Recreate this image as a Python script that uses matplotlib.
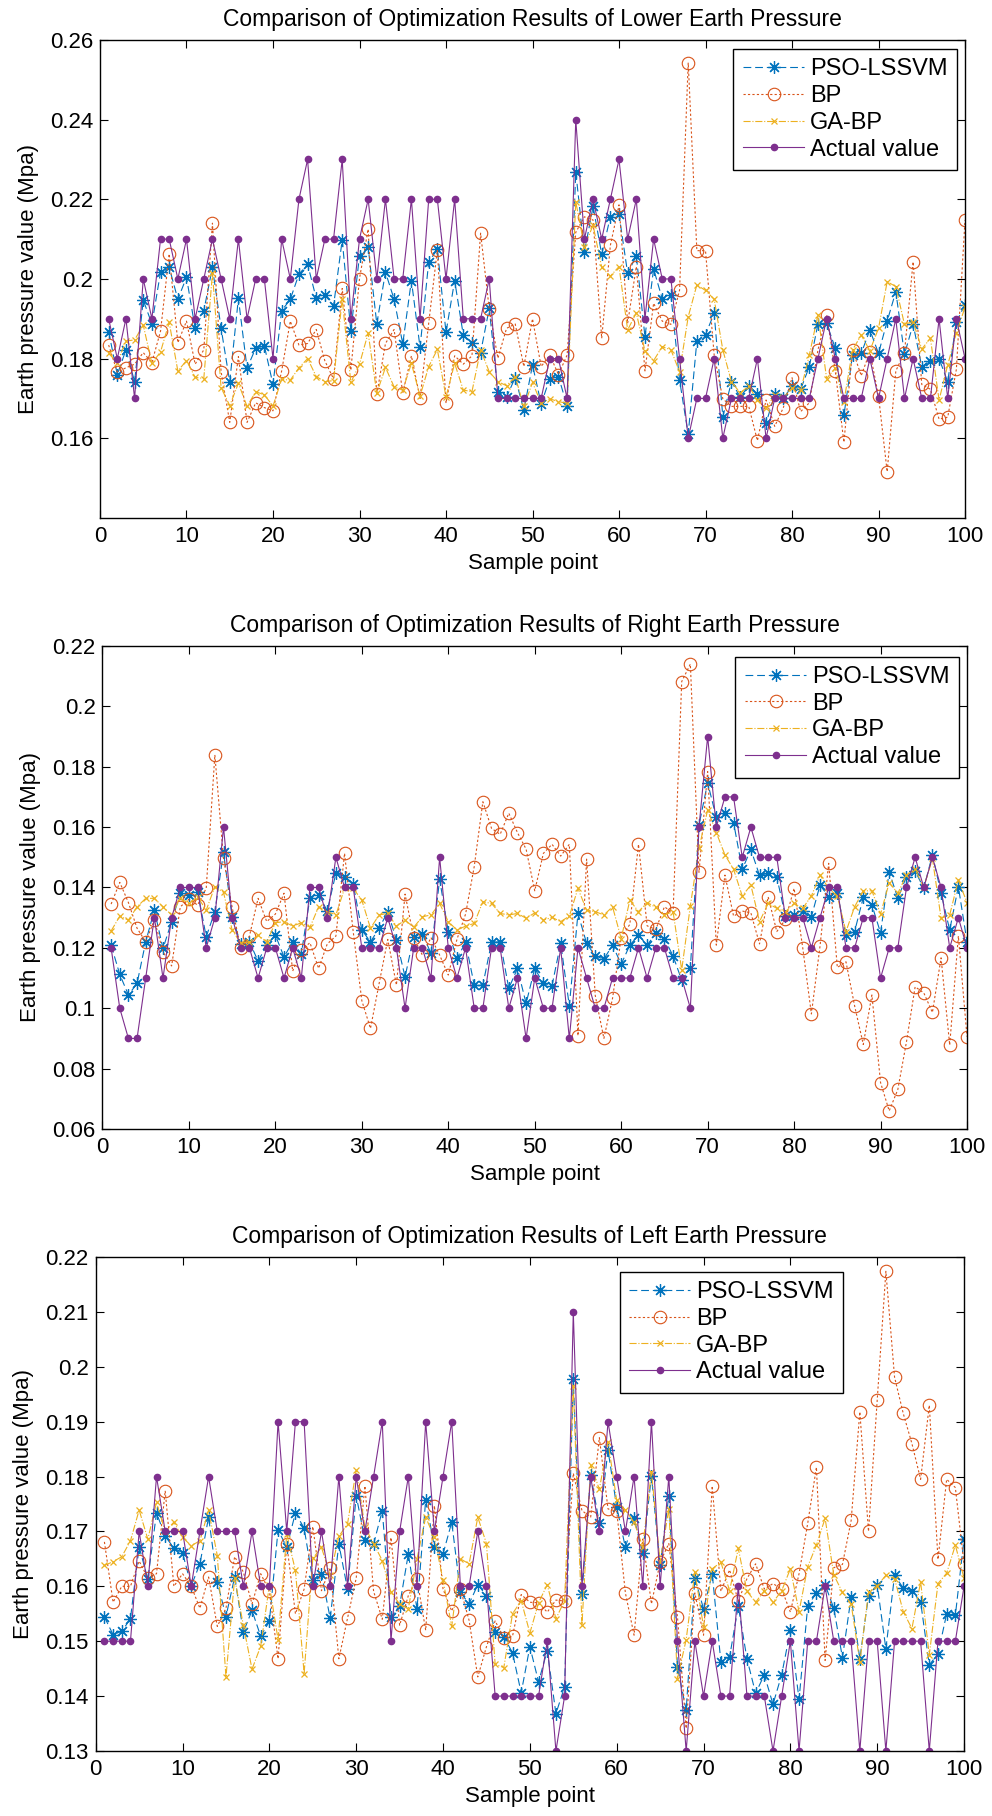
import numpy as np
import matplotlib
matplotlib.use('Agg')
import matplotlib.pyplot as plt

plt.rcParams['font.family'] = ['Liberation Sans', 'DejaVu Sans']

x = np.arange(1, 101)

# ---- Lower earth pressure
p1_pso = [.1868,.176,.1822,.1742,.1947,.1887,.2017,.2029,.1949,.2004,.1876,.1920,.2029,.1876,.1742,.1951,.1776,.1826,.1832,.1735,.1920,.1949,.2012,.2037,.1951,
          .196,.1932,.2098,.187,.2058,.208,.1887,.2017,.1949,.1837,.1996,.1828,.2043,.2074,.1866,.1996,.1859,.184,.1815,.1926,.1717,.1704,.1752,.1671,.1784,
          .1686,.175,.1755,.1681,.2269,.2067,.2182,.2062,.2156,.2162,.2014,.2058,.1855,.2025,.195,.196,.1746,.161,.1844,.186,.1914,.1654,.1742,.1704,.1731,
          .171,.1638,.171,.170,.1731,.1723,.178,.1887,.1889,.1826,.1658,.1809,.1813,.1872,.1813,.1894,.1968,.1811,.1886,.178,.1795,.180,.1742,.1893,.1935]
p1_bp = [.1834,.1766,.1777,.1786,.1815,.179,.1869,.2063,.184,.1894,.1786,.1822,.214,.1767,.164,.1805,.164,.1689,.1677,.1669,.1769,.1894,.1834,.1838,.1873,
         .1794,.1749,.1976,.1771,.2001,.2125,.171,.1838,.1873,.1713,.1807,.170,.1889,.2073,.1688,.1807,.1786,.1807,.2115,.1924,.1801,.1876,.1887,.178,.19,
         .178,.1809,.176,.1809,.2117,.2156,.2148,.1851,.2084,.2186,.1889,.2031,.1769,.1939,.1894,.1886,.1972,.2543,.2071,.2071,.1809,.1699,.168,.168,.168,
         .1594,.1696,.163,.1677,.1752,.1667,.1689,.1822,.191,.1769,.159,.1822,.1757,.1817,.1706,.1516,.1769,.1815,.2043,.1735,.1723,.1648,.1653,.1773,.2148]
p1_ga = [.1813,.179,.1844,.1847,.1884,.1788,.1817,.1891,.1769,.1795,.1753,.175,.2014,.1727,.1682,.1738,.168,.1717,.1709,.1681,.1748,.1746,.1777,.180,.1755,
         .1742,.1745,.1949,.174,.1786,.1864,.1713,.1778,.1729,.1721,.1788,.1706,.178,.1823,.1704,.1788,.1721,.1717,.1822,.1767,.1742,.1732,.1755,.168,.174,
         .1688,.1699,.1692,.1688,.2194,.2081,.2135,.2029,.2007,.2031,.1872,.1915,.1819,.1795,.183,.1822,.1767,.1905,.1985,.1971,.1949,.1822,.1742,.1714,.1731,
         .1696,.1675,.1709,.1704,.1726,.172,.1809,.191,.175,.1776,.1692,.1822,.1859,.182,.1876,.1993,.1981,.1886,.1893,.1824,.1851,.1696,.1784,.1864,.1929]
p1_act = [.19,.18,.19,.17,.20,.19,.21,.21,.20,.21,.19,.20,.21,.20,.19,.21,.19,.20,.20,.18,.21,.20,.22,.23,.20,
          .21,.21,.23,.19,.21,.22,.20,.22,.20,.20,.22,.19,.22,.22,.20,.22,.19,.19,.19,.20,.17,.17,.17,.17,.17,
          .17,.18,.18,.17,.24,.21,.22,.21,.22,.23,.21,.22,.19,.21,.20,.20,.18,.16,.17,.17,.18,.16,.17,.17,.17,
          .18,.16,.17,.17,.17,.17,.17,.18,.19,.18,.17,.17,.17,.18,.17,.18,.19,.17,.18,.17,.17,.19,.17,.19,.18]

# ---- Right earth pressure
p2_pso = [.1209,.1112,.1044,.1082,.122,.1325,.1198,.1287,.1381,.1375,.1386,.1237,.132,.1516,.1303,.1213,.122,.1156,.1209,.1242,.117,.122,.118,.1366,.1375,
          .1323,.1447,.1436,.1411,.1259,.122,.1265,.132,.1226,.1104,.1237,.1246,.1182,.1427,.1254,.1165,.1218,.1077,.1077,.1218,.122,.1066,.1132,.1016,.1132,
          .1082,.1075,.1215,.1008,.1314,.1215,.1173,.1163,.1209,.1146,.1209,.1242,.1209,.1248,.1231,.1173,.1093,.1132,.1607,.1747,.1632,.1648,.1615,.146,.1526,
          .144,.1447,.1434,.1305,.1309,.1323,.1303,.1408,.1369,.1381,.1242,.1254,.1367,.1342,.125,.1452,.1364,.1436,.1455,.1397,.1508,.1381,.1259,.1403,.122]
p2_bp = [.1345,.1417,.135,.1265,.122,.1292,.1187,.114,.1336,.1361,.1342,.1397,.1839,.1496,.1334,.1198,.1239,.1364,.1287,.1312,.1381,.1123,.1193,.1217,.1132,
         .1213,.1239,.1513,.1254,.1025,.0933,.1082,.1228,.1077,.1378,.1234,.1176,.1234,.1176,.111,.1228,.1312,.1469,.1684,.1596,.1576,.1646,.1582,.1527,.1389,
         .1513,.1543,.1504,.1543,.0909,.1494,.1042,.09,.1033,.1234,.1278,.1543,.1273,.1261,.1336,.1316,.2082,.214,.145,.1784,.1209,.1441,.1305,.1322,.1316,
         .1213,.1369,.1254,.1294,.1397,.12,.0981,.1206,.148,.1135,.1154,.1008,.088,.1044,.0754,.066,.0731,.0889,.1071,.1051,.0986,.1167,.0878,.1239,.0906]
p2_ga = [.1256,.1305,.1292,.1336,.1364,.1364,.1336,.1309,.1364,.1347,.1369,.1325,.1403,.1384,.1259,.1215,.122,.1242,.122,.1283,.1287,.1272,.1283,.1268,.1336,
         .132,.1309,.1397,.1397,.1358,.1265,.1309,.1314,.1272,.1292,.1268,.1303,.1309,.1347,.1287,.1259,.1272,.1281,.1353,.1347,.1314,.1309,.1314,.1298,.1316,
         .1292,.1301,.1287,.1305,.1397,.1325,.132,.1309,.1336,.1231,.1358,.132,.135,.1334,.1309,.132,.1127,.1339,.153,.1657,.1582,.1508,.146,.1372,.1408,
         .1287,.1347,.1331,.132,.1347,.1331,.1372,.1441,.1397,.1372,.1254,.1336,.1389,.1389,.1312,.1416,.1381,.1441,.146,.14,.1496,.1298,.1309,.1425,.135]
p2_act = [.12,.10,.09,.09,.11,.13,.11,.13,.14,.14,.14,.12,.13,.16,.13,.12,.12,.11,.12,.12,.11,.12,.11,.14,.14,
          .13,.15,.14,.14,.12,.12,.12,.13,.12,.10,.12,.12,.11,.15,.12,.11,.12,.10,.10,.12,.12,.10,.11,.09,.11,
          .10,.10,.12,.09,.12,.11,.10,.10,.11,.11,.11,.12,.11,.12,.12,.11,.11,.10,.16,.19,.16,.17,.17,.15,.16,
          .15,.15,.15,.13,.13,.13,.12,.13,.14,.14,.12,.12,.13,.13,.11,.12,.12,.14,.15,.14,.15,.14,.12,.13,.12]

# ---- Left earth pressure
p3_pso = [.1544,.1512,.1518,.1541,.1672,.1613,.1734,.1691,.167,.1661,.1601,.1641,.1726,.1608,.1545,.1617,.1517,.1556,.1509,.1536,.1703,.1671,.1734,.1706,.1611,
          .1623,.1542,.1677,.1595,.1765,.1685,.1677,.1738,.1544,.1565,.1659,.1559,.1757,.1672,.1659,.1717,.1589,.1568,.1603,.1583,.1517,.1508,.1479,.1406,.149,
          .1426,.1483,.1368,.1417,.1977,.1586,.1803,.1715,.1848,.1745,.1671,.1724,.166,.1801,.1638,.1765,.1453,.1374,.1615,.1559,.1623,.1462,.1471,.1564,.1468,
          .1405,.1439,.1385,.1439,.152,.1394,.1564,.1588,.1603,.156,.147,.1581,.1468,.1583,.1603,.1486,.162,.1597,.1591,.1572,.1457,.1477,.155,.1547,.1686]
p3_bp = [.1681,.1571,.16,.16,.1646,.1615,.1623,.1774,.16,.1623,.16,.156,.1617,.1527,.156,.1654,.1626,.1568,.1623,.1591,.1468,.1677,.155,.1595,.1709,
         .1592,.1634,.1468,.1542,.1615,.1783,.1591,.154,.1689,.1529,.1583,.1614,.152,.1747,.1595,.1555,.1595,.1538,.1435,.149,.1537,.1506,.1509,.1585,.1571,
         .157,.1553,.1575,.1573,.1806,.1738,.1726,.1871,.1741,.1737,.1588,.1511,.1686,.1568,.1644,.1678,.1544,.1341,.1588,.1511,.1783,.1591,.163,.1573,.1614,
         .1641,.1595,.1605,.1595,.1553,.1623,.1715,.1817,.1465,.1634,.164,.172,.1918,.17,.1939,.2174,.1981,.1915,.186,.1795,.193,.1649,.1795,.178,.1641]
p3_ga = [.1638,.1645,.1654,.1683,.1739,.1686,.1753,.17,.1717,.1689,.1674,.1683,.1739,.1656,.1435,.1615,.1529,.1449,.1491,.1602,.1503,.1695,.1629,.1441,.1651,
         .1671,.162,.1691,.1714,.1812,.1708,.1678,.1647,.1589,.1568,.1559,.165,.1726,.1689,.1611,.1527,.165,.1641,.1726,.1678,.1458,.1452,.155,.1574,.1515,
         .157,.1603,.1541,.1574,.1965,.153,.1821,.1777,.1863,.1757,.1739,.1717,.1672,.1809,.1644,.1741,.1432,.1503,.1626,.1526,.1632,.1644,.1592,.1669,.1591,
         .1571,.1592,.1571,.1592,.1632,.1554,.1636,.1675,.1724,.1621,.1589,.1568,.1462,.1589,.1601,.162,.1614,.1554,.1523,.1608,.1475,.1605,.1624,.1675,.1615]
p3_act = [.15,.15,.15,.15,.17,.16,.18,.17,.17,.17,.16,.17,.18,.17,.17,.17,.16,.17,.16,.16,.19,.17,.19,.19,.16,
          .17,.16,.18,.16,.18,.17,.18,.19,.15,.17,.18,.16,.19,.17,.18,.19,.16,.16,.17,.16,.14,.14,.14,.14,.14,
          .14,.15,.13,.14,.21,.16,.18,.17,.19,.18,.17,.18,.16,.19,.16,.18,.15,.13,.15,.14,.15,.14,.14,.16,.14,
          .14,.14,.13,.14,.15,.13,.15,.15,.16,.15,.15,.15,.13,.15,.15,.13,.15,.15,.15,.15,.13,.15,.15,.15,.16]

titles = ['Comparison of Optimization Results of Lower Earth Pressure',
          'Comparison of Optimization Results of Right Earth Pressure',
          'Comparison of Optimization Results of Left Earth Pressure']
yticks = [[0.16, 0.18, 0.2, 0.22, 0.24, 0.26],
          [0.06, 0.08, 0.1, 0.12, 0.14, 0.16, 0.18, 0.2, 0.22],
          [0.13, 0.14, 0.15, 0.16, 0.17, 0.18, 0.19, 0.2, 0.21, 0.22]]
ylims = [(0.14, 0.26), (0.06, 0.22), (0.13, 0.22)]
xticks = list(range(0, 101, 10))
names = ['PSO-LSSVM', 'BP', 'GA-BP', 'Actual value']

c_blue = '#0072BD'
c_orange = '#D95319'
c_yellow = '#EDB120'
c_purple = '#7E2F8E'

positions = [[0.1008, 0.7148, 0.872, 0.2632],
             [0.1033, 0.3783, 0.8715, 0.2660],
             [0.0965, 0.0358, 0.8753, 0.2720]]
leg_anchor = [(0.991, 0.981), (0.991, 0.978), (0.861, 0.970)]

fig = plt.figure(figsize=(9.92, 18.16), dpi=100)

data = [(p1_pso, p1_bp, p1_ga, p1_act),
        (p2_pso, p2_bp, p2_ga, p2_act),
        (p3_pso, p3_bp, p3_ga, p3_act)]

for i in range(3):
    pso, bp, ga, act = data[i]
    ax = fig.add_axes(positions[i])
    ax.plot(x, pso, color=c_blue, ls=(0, (7, 3.5)), lw=0.8, marker=(8, 2, 0),
            ms=9, mew=0.9, label=names[0])
    ax.plot(x, bp, color=c_orange, ls=(0, (2, 2)), lw=0.8, marker='o', ms=9,
            mfc='none', mew=0.8, label=names[1])
    ax.plot(x, ga, color=c_yellow, ls='-.', lw=0.8, marker='x', ms=5,
            mew=0.9, label=names[2])
    ax.plot(x, act, color=c_purple, ls='-', lw=0.8, marker='o', ms=4.5,
            label=names[3])
    ax.set_xlim(0, 100)
    ax.set_ylim(*ylims[i])
    ax.set_xticks(xticks)
    ax.set_yticks(yticks[i])
    ax.set_yticklabels(['%g' % v for v in yticks[i]])
    ax.tick_params(direction='in', top=True, right=True, length=6, width=0.8,
                   labelsize=16)
    ax.tick_params(axis='x', pad=6)
    ax.tick_params(axis='y', pad=5)
    for s in ax.spines.values():
        s.set_linewidth(1.0)
    ax.set_title(titles[i], fontsize=16.5, pad=10)
    ax.set_xlabel('Sample point', fontsize=16, labelpad=4)
    ax.set_ylabel('Earth pressure value (Mpa)', fontsize=16, labelpad=8)
    leg = ax.legend(loc='upper right', bbox_to_anchor=leg_anchor[i],
                    borderaxespad=0, fontsize=17, fancybox=False,
                    edgecolor='black', framealpha=1, handlelength=2.6,
                    handletextpad=0.25, labelspacing=0.2, borderpad=0.4)
    leg.get_frame().set_linewidth(1.0)

fig.savefig('out.png', dpi=100)
